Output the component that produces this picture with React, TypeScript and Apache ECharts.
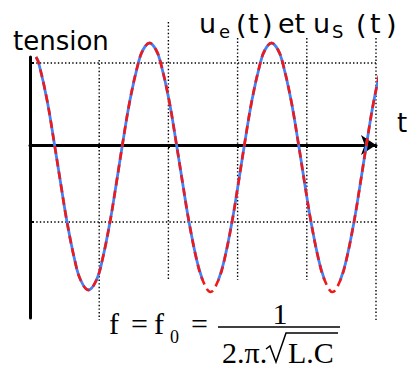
import React, { useEffect, useRef } from "react";
import * as echarts from "echarts";

// u_s(t): output voltage (dashed red), sampled along the trace
const redTimes = [0.087, 0.126, 0.246, 0.355, 0.447, 0.535, 0.646, 0.731, 0.845, 0.96, 1.045, 1.156, 1.244, 1.335, 1.445, 1.565, 1.632, 1.727, 1.822, 1.889, 2.009, 2.118, 2.21, 2.298, 2.409, 2.494, 2.608, 2.723, 2.808, 2.919, 3.007, 3.098, 3.208, 3.328, 3.395, 3.49, 3.585, 3.652, 3.772, 3.882, 3.973, 4.061, 4.172, 4.257, 4.371, 4.486, 4.571, 4.682, 4.77, 4.861, 4.971, 5.091, 5.145];
const redValues = [1.1, 1.025, 0.5625, 0, -0.5, -0.9625, -1.4375, -1.6875, -1.8125, -1.6875, -1.4375, -0.9625, -0.5, 0, 0.5625, 1.025, 1.1875, 1.275, 1.1875, 1.025, 0.5625, 0, -0.5, -0.9625, -1.4375, -1.6875, -1.8375, -1.6875, -1.4375, -0.9625, -0.5, 0, 0.5625, 1.025, 1.1875, 1.275, 1.1875, 1.025, 0.5625, 0, -0.5, -0.9625, -1.4375, -1.6875, -1.8375, -1.6875, -1.4375, -0.9625, -0.5, 0, 0.5625, 1.025, 1.125];

// u_e(t): input voltage (solid blue); its trace breaks at the bottom of the 2nd and 3rd troughs
const blueTimes = redTimes;
const blueValues: (number | null)[] = [1.1, 1.025, 0.5625, 0, -0.5, -0.9625, -1.4375, -1.6875, -1.8125, -1.6875, -1.4375, -0.9625, -0.5, 0, 0.5625, 1.025, 1.1875, 1.275, 1.1875, 1.025, 0.5625, 0, -0.5, -0.9625, -1.4375, -1.6875, null, -1.6875, -1.4375, -0.9625, -0.5, 0, 0.5625, 1.025, 1.1875, 1.275, 1.1875, 1.025, 0.5625, 0, -0.5, -0.9625, -1.4375, -1.6875, null, -1.6875, -1.4375, -0.9625, -0.5, 0, 0.5625, 1.025, 1.125];

// dotted reference lines
const vGridX = [1, 2, 3, 4, 5];
const vGridTop = [1.0625, 1.5375, 1.3375, 1.3375, 1.3375];
const vGridBottom = [-2.1875, -1.6875, -1.6875, -1.6875, -2.1875];
const hGridY = [1.025, -0.9625];
const hGridFrom = -0.17;
const hGridTo = 5;

const xTicks = [1, 2, 3, 4, 5];
const yTicks = [1.025, -0.9625];

const comic = "DejaVu Sans";
const serif = "Liberation Serif";

export default function App() {
  const ref = useRef<HTMLDivElement>(null);

  useEffect(() => {
    if (!ref.current) return;
    const chart = echarts.init(ref.current, undefined, { renderer: "svg" });

    const dotted = { color: "#000", width: 1.4, type: [1.4, 2.2] as number[] };

    const gridSeries: any[] = [];
    vGridX.forEach((x, i) => {
      gridSeries.push({
        type: "line",
        data: [[x, vGridTop[i]], [x, vGridBottom[i]]],
        showSymbol: false,
        clip: false,
        silent: true,
        lineStyle: dotted,
        z: 1,
      });
    });
    hGridY.forEach((y) => {
      gridSeries.push({
        type: "line",
        data: [[hGridFrom, y], [hGridTo, y]],
        showSymbol: false,
        clip: false,
        silent: true,
        lineStyle: dotted,
        z: 1,
      });
    });

    const blueData = blueTimes.map((t, i) => [t, blueValues[i] === null ? "-" : blueValues[i]]);
    const redData = redTimes.map((t, i) => [t, redValues[i]]);

    const txt = (x: number, y: number, text: string, font: string, align = "left") => ({
      type: "text",
      x,
      y,
      style: { text, font, fill: "#000", align, verticalAlign: "middle" },
    });
    const big = `27px "${comic}"`;
    const sub = `18px "${comic}"`;
    const f30 = `30px "${serif}"`;

    chart.setOption({
      animation: false,
      backgroundColor: "#fff",
      grid: { left: 30, top: 57, width: 346, height: 261 },
      xAxis: {
        type: "value",
        min: 0,
        max: 5,
        axisLine: {
          show: true,
          onZero: true,
          symbol: ["none", "arrow"],
          symbolSize: [15, 15],
          lineStyle: { color: "#000", width: 3 },
        },
        axisTick: { show: true, customValues: xTicks, length: 3, lineStyle: { color: "#000", width: 2 } },
        axisLabel: { show: false },
        splitLine: { show: false },
      },
      yAxis: {
        type: "value",
        min: -2.1625,
        max: 1.1,
        axisLine: { show: true, onZero: true, lineStyle: { color: "#000", width: 3 } },
        axisTick: { show: true, inside: true, customValues: yTicks, length: 4, lineStyle: { color: "#000", width: 2 } },
        axisLabel: { show: false },
        splitLine: { show: false },
      },
      series: [
        ...gridSeries,
        {
          name: "u_e",
          type: "line",
          data: blueData,
          smooth: 0.4,
          showSymbol: false,
          clip: false,
          connectNulls: false,
          silent: true,
          lineStyle: { color: "#4282f7", width: 2.8 },
          z: 3,
        },
        {
          name: "u_s",
          type: "line",
          data: redData,
          smooth: 0.4,
          showSymbol: false,
          clip: false,
          silent: true,
          lineStyle: { color: "#f01818", width: 2.6, type: [8, 5] },
          z: 4,
        },
      ],
      graphic: [
        txt(13, 41, "tension", `26px "${comic}"`),
        txt(397, 123, "t", `26px "${comic}"`),

        txt(199, 23, "u", big),
        txt(219, 31, "e", sub),
        txt(236, 24, "(", big),
        txt(248, 23, "t", big),
        txt(262, 24, ")", big),
        txt(278, 23, "et", big),
        txt(313, 23, "u", big),
        txt(332, 31, "S", sub),
        txt(356, 24, "(", big),
        txt(370, 23, "t", big),
        txt(386, 24, ")", big),

        txt(109, 323, "f", f30),
        txt(131, 323, "=", f30),
        txt(154, 323, "f", f30),
        txt(170, 337, "0", `18px "${serif}"`),
        txt(191, 323, "=", f30),
        txt(280, 313, "1", f30, "center"),
        { type: "line", shape: { x1: 218, y1: 327, x2: 340, y2: 327 }, style: { stroke: "#000", lineWidth: 1.5 } },
        txt(222, 352, "2.π.", f30),
        {
          type: "polyline",
          shape: { points: [[266, 349], [270, 346], [276, 362], [286, 333], [338, 333]] },
          style: { stroke: "#000", lineWidth: 1.5, fill: "none" },
        },
        txt(288, 352, "L.C", f30),
      ],
    });

    return () => chart.dispose();
  }, []);

  return (
    <div
      ref={ref}
      style={{ position: "absolute", left: 0, top: 0, width: 411, height: 376, background: "#fff" }}
    />
  );
}
